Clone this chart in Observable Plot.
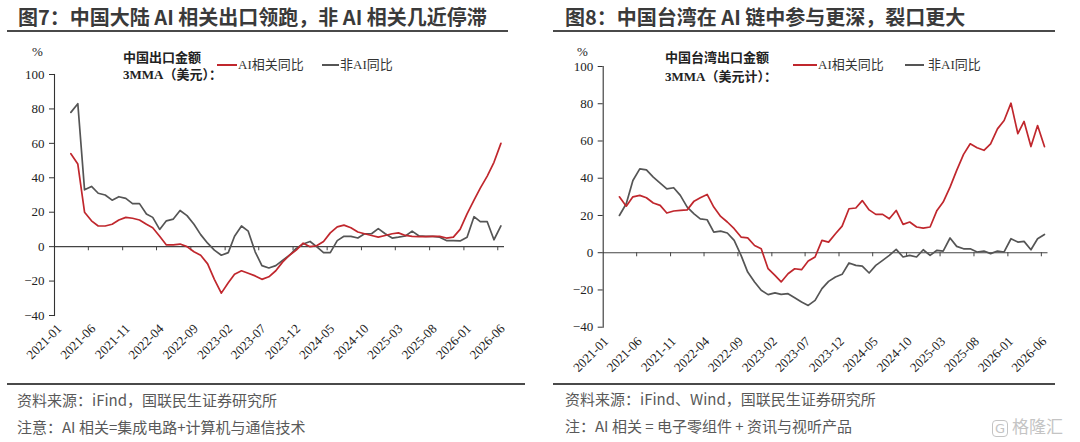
<!DOCTYPE html>
<html><head><meta charset="utf-8">
<script src="https://cdn.jsdelivr.net/npm/d3@7"></script>
<script src="https://cdn.jsdelivr.net/npm/@observablehq/plot@0.6"></script>
<style>
body{margin:0;background:#fff;}
#wrap{position:relative;width:1080px;height:442px;overflow:hidden;font-family:"Noto Sans CJK SC",sans-serif;background:#fff;}
.abs{position:absolute;white-space:nowrap;}
.title{font-size:20px;font-weight:bold;color:#3a3a3a;top:4px;line-height:26px;}
.hr{position:absolute;height:2px;background:#4a4a4a;}
.src{font-size:15px;color:#595959;line-height:18px;}
.leg{font-family:"Liberation Serif","Noto Sans CJK SC",serif;font-size:13px;color:#333;line-height:16px;}
.legb{font-family:"Liberation Serif","Noto Sans CJK SC",serif;font-size:13px;color:#222;font-weight:bold;line-height:16px;}
.pct{font-family:"Liberation Serif",serif;font-size:13px;color:#222;line-height:16px;}
.sw{position:absolute;height:2px;}
.plot{position:absolute;top:0;}
</style></head>
<body><div id="wrap"></div>
<script>
// ---- data ----
const firstMonth = "2021-03";
const lastMonth = "2026-06";
const tickLabels = ["2021-01","2021-06","2021-11","2022-04","2022-09","2023-02","2023-07","2023-12","2024-05","2024-10","2025-03","2025-08","2026-01","2026-06"];
const yTicks = [-40,-20,0,20,40,60,80,100];

// 图7 中国大陆 (3MMA, %)
const cnAI = [54,48,20,15,12,12,13,15.5,17,16.5,15.5,13,11,6,1,1,1.5,0,-3,-5,-10,-19,-27,-21,-16,-14,-15.5,-17,-19,-17.5,-14,-9,-5,-2,2,0,0.5,3,8,11.5,12.5,11,8.5,7.5,6.5,5.5,6.5,7.5,8,6.5,6,5.8,5.8,6,6,5,5.5,10,19,27,34,41,49,60];
const cnNonAI = [78,83,33,35,31,30,27,29,28,25,25,19,17,10,15,16,21,18,13,7,2,-2,-5,-3.5,6,12,9,-3,-11,-12.4,-11,-8,-5,-1,1.5,3,0,-3.5,-3.5,3.5,6,6,5,7.5,7.5,10.5,7.5,5,5.5,6.2,9,6.2,6,6,5.5,3.5,3.5,3.3,5.4,17.4,14.5,14.5,4,12];

// 图8 中国台湾 (3MMA, %)
const twAI = [30,25,30,30.8,29.5,26.7,25.4,21.3,22.4,22.7,23,27.7,29.5,31.3,24.5,19.5,16.5,12.9,8.4,8,3.9,2.1,-8.6,-12.2,-15.7,-11.3,-8.6,-9.1,-4.5,-2.3,6.6,5.7,10.2,14.3,23.6,24,28,23,20.6,20.6,18.2,22.7,15.2,16.5,13.8,13.2,13.8,22.7,27.2,35.2,44.2,52.8,58.5,56.4,55,58.5,66.5,71,80.3,63.9,70.5,57,68.3,57];
const twNonAI = [20,26.3,38.8,45,44.5,40.6,37.4,34.3,34.9,30.8,24.5,20.9,18.2,17.7,11.1,11.6,10.6,6.6,-1.4,-10.4,-15.7,-20.2,-22.5,-21.6,-22.4,-22,-24.2,-26.5,-28.3,-25.6,-19.3,-15.4,-13,-11.6,-5.5,-6.8,-7.2,-10.9,-6.8,-4.1,-1.4,1.8,-2.3,-1.4,-2.3,1.6,-1.4,1.3,0.9,7.9,3.4,2.1,2.1,0.4,0.9,-0.5,0.9,0.4,7.5,5.7,6.1,1.6,7.5,9.8];

const seriesNames = ["AI相关同比","非AI同比"];
const colors = {"AI相关同比":"#c0272d","非AI同比":"#555555"};

// ---- build ----
const parseM = d3.utcParse("%Y-%m");
const fmtM = d3.utcFormat("%Y-%m");
const monthStarts = d3.utcMonth.range(parseM(firstMonth), d3.utcMonth.offset(parseM(lastMonth), 1));
const monthDates = monthStarts.map(d => d3.utcDay.offset(d, 14)); // mid-month points
const tickDates = tickLabels.map(parseM);
const xDomain = [parseM(tickLabels[0]), d3.utcMonth.offset(parseM(tickLabels[tickLabels.length-1]), 1)];

function rows(ai, non) {
  const out = [];
  monthDates.forEach((d, i) => {
    out.push({date: d, series: seriesNames[0], value: ai[i]});
    out.push({date: d, series: seriesNames[1], value: non[i]});
  });
  return out;
}

const SERIF = "Liberation Serif";
function panel(ai, non, m) {
  const data = rows(ai, non);
  const svg = Plot.plot({
    width: 540, height: 380,
    marginLeft: m.ml, marginTop: m.mt, marginBottom: m.mb, marginRight: m.mr,
    style: {background: "transparent", overflow: "visible", fontFamily: SERIF, fontSize: "13px", color: "#222"},
    x: {type: "utc", domain: xDomain},
    y: {domain: [-40, 100]},
    marks: [
      Plot.ruleY([0], {stroke: "#444", strokeWidth: 1.1}),
      Plot.ruleX(tickDates.slice(1), {x: d => d, y1: 0, y2: m.tickLen, stroke: "#444", strokeWidth: 1}),
      Plot.frame({anchor: "left", stroke: "#333", strokeWidth: 1.1}),
      Plot.axisY(yTicks, {tickSize: 5, tickPadding: 5, label: null, fontSize: 13, fontFamily: SERIF, stroke: "#333"}),
      Plot.axisX(tickDates, {tickSize: 0, tickRotate: -45, tickPadding: 6, label: null, tickFormat: fmtM, fontSize: 13, fontFamily: SERIF, dx: m.ldx, dy: m.ldy}),
      Plot.line(data.filter(d => d.series === seriesNames[1]), {x: "date", y: "value", stroke: colors[seriesNames[1]], strokeWidth: 1.7}),
      Plot.line(data.filter(d => d.series === seriesNames[0]), {x: "date", y: "value", stroke: colors[seriesNames[0]], strokeWidth: 1.7})
    ]
  });
  svg.setAttribute("font-family", SERIF);
  svg.querySelectorAll("g[font-family]").forEach(g => g.setAttribute("font-family", SERIF));
  svg.querySelectorAll("text").forEach(t => { t.style.fontFamily = `"${SERIF}", serif`; t.style.fill = "#222"; });
  return svg;
}

const wrap = document.getElementById("wrap");
function add(html) { wrap.insertAdjacentHTML("beforeend", html); }

const p1 = panel(cnAI, cnNonAI, {ml: 54, mt: 74, mb: 65, mr: 36, tickLen: -2.4, ldx: 5, ldy: 5});
p1.classList.add("plot"); p1.style.left = "0px";
wrap.appendChild(p1);
const p2 = panel(twAI, twNonAI, {ml: 62.7, mt: 66, mb: 53.3, mr: 32.5, tickLen: -2.2, ldx: 3, ldy: 6});
p2.classList.add("plot"); p2.style.left = "540px";
wrap.appendChild(p2);

// titles and rules
add(`<div class="abs title" style="left:18px">图7：中国大陆 AI 相关出口领跑，非 AI 相关几近停滞</div>`);
add(`<div class="abs title" style="left:565px">图8：中国台湾在 AI 链中参与更深，裂口更大</div>`);
add(`<div class="hr" style="left:7px;top:30px;width:501px"></div>`);
add(`<div class="hr" style="left:553px;top:30px;width:502px"></div>`);
add(`<div class="hr" style="left:7px;top:383px;width:518px"></div>`);
add(`<div class="hr" style="left:553px;top:383px;width:502px"></div>`);

// percent labels
add(`<div class="abs pct" style="left:32px;top:44px">%</div>`);
add(`<div class="abs pct" style="left:577px;top:44px">%</div>`);

// legends
add(`<div class="abs legb" style="left:123px;top:50px">中国出口金额</div>`);
add(`<div class="abs legb" style="left:123px;top:67px">3MMA（美元）：</div>`);
add(`<div class="sw" style="left:217px;top:64px;width:20px;background:${colors[seriesNames[0]]}"></div>`);
add(`<div class="abs leg" style="left:238px;top:57px">${seriesNames[0]}</div>`);
add(`<div class="sw" style="left:322px;top:64px;width:17px;background:${colors[seriesNames[1]]}"></div>`);
add(`<div class="abs leg" style="left:340px;top:57px">${seriesNames[1]}</div>`);

add(`<div class="abs legb" style="left:665px;top:50px">中国台湾出口金额</div>`);
add(`<div class="abs legb" style="left:665px;top:69px">3MMA（美元计）：</div>`);
add(`<div class="sw" style="left:793px;top:64px;width:24px;background:${colors[seriesNames[0]]}"></div>`);
add(`<div class="abs leg" style="left:818px;top:57px">${seriesNames[0]}</div>`);
add(`<div class="sw" style="left:905px;top:64px;width:19px;background:${colors[seriesNames[1]]}"></div>`);
add(`<div class="abs leg" style="left:928px;top:57px">${seriesNames[1]}</div>`);

// sources
add(`<div class="abs src" style="left:17px;top:391px">资料来源：iFind，国联民生证券研究所</div>`);
add(`<div class="abs src" style="left:17px;top:418px">注意：AI 相关=集成电路+计算机与通信技术</div>`);
add(`<div class="abs src" style="left:565px;top:390px">资料来源：iFind、Wind，国联民生证券研究所</div>`);
add(`<div class="abs src" style="left:565px;top:417px">注：AI 相关 = 电子零组件 + 资讯与视听产品</div>`);
add(`<div class="abs" style="left:992px;top:416px;font-size:17px;color:#c4c4c4;line-height:20px"><span style="border:1.5px solid #c4c4c4;border-radius:4px;padding:0 2px;font-size:13px;font-family:'DejaVu Sans'">G</span> 格隆汇</div>`);
</script>
</body></html>
